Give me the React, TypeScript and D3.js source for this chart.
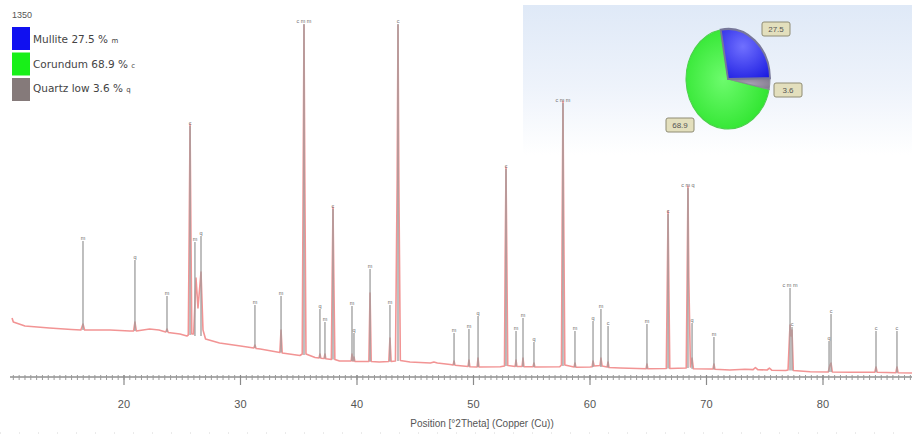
import React from "react";
import * as d3 from "d3";

// sample label and refined phase amounts
const sampleName = "1350";
const phaseNames = ["Mullite", "Corundum", "Quartz low"];
const phasePercents = [27.5, 68.9, 3.6];
const phaseCodes = ["m", "c", "q"];
const phaseColors = ["#1010f0", "#18f018", "#857a7a"];

const xTickLabels = [20, 30, 40, 50, 60, 70, 80];
const axisTitle = "Position [°2Theta] (Copper (Cu))";

// measured trace: [°2θ, counts]
const pattern: [number, number][] = [
  [10.39, 600], [10.5, 560], [11.5, 520], [13.6, 500], [15.5, 485], [16.3, 480],
  [16.48, 540], [16.62, 480], [18.8, 480], [20.5, 470], [20.82, 470], [20.94, 560],
  [21.06, 470], [22.2, 490], [23.0, 480], [23.58, 460], [23.69, 490], [23.8, 455],
  [24.8, 440], [25.4, 420], [25.52, 430], [25.6, 1500], [25.67, 2540], [25.74, 1500],
  [25.82, 440], [25.98, 440], [26.18, 1000], [26.35, 700], [26.61, 1060], [26.78, 480],
  [27.0, 390], [28.2, 350], [30.0, 320], [31.14, 300], [31.24, 330], [31.34, 295],
  [31.7, 290], [33.38, 255], [33.48, 480], [33.58, 250], [35.1, 225], [35.3, 240],
  [35.38, 2000], [35.45, 3530], [35.52, 2000], [35.62, 240], [36.4, 205], [36.74, 200],
  [36.82, 240], [36.9, 198], [37.17, 195], [37.25, 240], [37.33, 192], [37.8, 185],
  [37.87, 1000], [37.94, 1710], [38.01, 1000], [38.1, 185], [38.5, 170], [39.5, 170],
  [39.57, 240], [39.65, 168], [39.74, 210], [39.82, 166], [40.2, 165], [41.02, 165],
  [41.12, 850], [41.22, 165], [41.9, 160], [42.73, 165], [42.83, 400], [42.93, 165],
  [43.3, 170], [43.45, 2000], [43.52, 3530], [43.59, 2000], [43.72, 175], [44.55, 160],
  [46.3, 150], [46.6, 160], [46.9, 150], [48.0, 135], [48.25, 130], [48.33, 170],
  [48.41, 128], [49.53, 115], [49.61, 180], [49.69, 112], [50.31, 110], [50.39, 200],
  [50.47, 110], [52.3, 112], [52.66, 120], [52.72, 1200], [52.79, 2110], [52.86, 1200],
  [52.94, 125], [53.57, 115], [53.65, 180], [53.73, 115], [54.17, 115], [54.25, 200],
  [54.33, 113], [55.11, 112], [55.19, 150], [55.27, 110], [57.4, 112], [57.55, 130],
  [57.61, 1500], [57.68, 2770], [57.75, 1500], [57.84, 130], [58.63, 110], [58.71, 150],
  [58.79, 108], [60.0, 110], [60.18, 112], [60.26, 170], [60.36, 120], [60.86, 125],
  [60.94, 200], [61.04, 120], [61.47, 110], [61.55, 160], [61.63, 105], [62.6, 100],
  [64.81, 92], [64.89, 140], [64.97, 92], [66.55, 95], [66.63, 900], [66.7, 1670],
  [66.77, 900], [66.85, 95], [68.26, 100], [68.34, 1000], [68.41, 1920], [68.48, 1000],
  [68.62, 110], [68.76, 200], [68.88, 92], [70.3, 90], [70.56, 90], [70.64, 140],
  [70.72, 88], [72.0, 80], [73.3, 88], [74.0, 84], [74.2, 105], [74.4, 84],
  [75.2, 80], [75.4, 98], [75.6, 78], [76.8, 75], [77.0, 80], [77.12, 400],
  [77.17, 530], [77.26, 420], [77.34, 480], [77.45, 75], [78.9, 62], [80.45, 60],
  [80.6, 130], [80.69, 150], [80.8, 60], [82.4, 58], [84.45, 58], [84.55, 110],
  [84.65, 58], [86.25, 52], [86.35, 110], [86.45, 52], [87.64, 50],
];

// identified peaks: [°2θ, top counts, base counts, phase label]
const peakMarks: [number, number, number, string][] = [
  [16.48, 1370, 480, "m"], [20.94, 1180, 470, "q"], [23.69, 820, 460, "m"],
  [25.67, 2520, 430, "c"], [26.09, 1360, 420, "m"], [26.61, 1420, 420, "q"],
  [31.24, 730, 300, "m"], [33.48, 820, 255, "m"], [35.45, 3540, 230, "c m m"],
  [36.82, 690, 200, "q"], [37.25, 560, 195, "m"], [37.94, 1690, 185, "c"],
  [39.57, 720, 170, "m"], [39.74, 450, 168, "q"], [41.12, 1090, 165, "m"],
  [42.83, 730, 165, "m"], [43.52, 3540, 170, "c"], [48.33, 450, 130, "m"],
  [49.61, 490, 115, "m"], [50.39, 620, 110, "q"], [52.79, 2090, 120, "c"],
  [53.65, 470, 115, "m"], [54.25, 600, 113, "m"], [55.19, 360, 110, "q"],
  [57.68, 2750, 120, "c m m"], [58.71, 470, 108, "m"], [60.26, 570, 110, "q"],
  [60.94, 690, 110, "m"], [61.55, 520, 105, "c"], [64.89, 540, 92, "m"],
  [66.7, 1640, 95, "c"], [68.41, 1900, 100, "c m q"], [68.76, 550, 92, "q"],
  [70.64, 410, 88, "m"], [77.17, 900, 75, "c m m"], [77.34, 510, 75, "c"],
  [80.52, 370, 60, "q"], [80.69, 640, 60, "c"], [84.55, 470, 58, "c"],
  [86.35, 470, 52, "c"],
];

const W = 912;
const H = 439;
const axisY = 377;

export default function App() {
  const x = d3.scaleLinear().domain([10, 87.64]).range([7.5, 912]);
  const y = d3.scaleLinear().domain([0, 3600]).range([378, 18]);

  const line = d3
    .line<[number, number]>()
    .x((d) => x(d[0]))
    .y((d) => y(d[1]));

  const minorTicks = d3.range(10.5, 87.6, 0.5);

  // pie clockwise: mullite, quartz, corundum; squashed to an ellipse
  const pieIdx = [0, 2, 1];
  const pieGen = d3
    .pie<number>()
    .sort(null)
    .value((i) => phasePercents[i])
    .startAngle((-10 * Math.PI) / 180)
    .endAngle((350 * Math.PI) / 180);
  const arcs = pieGen(pieIdx);
  const arc = d3.arc<d3.PieArcDatum<number>>().innerRadius(0).outerRadius(50);
  const drawOrder = [2, 1, 0]; // green first, blue on top
  const pieBoxes: [number, number][] = [
    [776, 29],
    [680, 125],
    [788, 90],
  ];
  const pieStroke = ["#77779a", "#4ccf4c", "#8a8a96"];

  const font = "'Liberation Sans', Arial, sans-serif";

  return (
    <svg
      width={W}
      height={H}
      viewBox={`0 0 ${W} ${H}`}
      style={{ position: "absolute", left: 0, top: 0, display: "block", background: "#fff" }}
      fontFamily={font}
    >
      <defs>
        <linearGradient id="panelBg" x1="0" y1="0" x2="0" y2="1">
          <stop offset="0%" stopColor="#dfe9f7" />
          <stop offset="55%" stopColor="#eef3fb" />
          <stop offset="100%" stopColor="#ffffff" />
        </linearGradient>
        <radialGradient id="g0" cx="0.45" cy="0.35" r="0.8">
          <stop offset="0%" stopColor="#7070ff" />
          <stop offset="100%" stopColor="#1a1ae0" />
        </radialGradient>
        <radialGradient id="g1" cx="0.45" cy="0.5" r="0.7">
          <stop offset="0%" stopColor="#6dfb6d" />
          <stop offset="100%" stopColor="#22e022" />
        </radialGradient>
        <radialGradient id="g2" cx="0.5" cy="0.5" r="0.7">
          <stop offset="0%" stopColor="#a9a0b4" />
          <stop offset="100%" stopColor="#7d7589" />
        </radialGradient>
      </defs>

      {/* pie panel */}
      <rect x={523} y={5} width={W - 523} height={150} fill="url(#panelBg)" />
      <g transform="translate(728,79) scale(0.84,1)">
        {drawOrder.map((k) => {
          const i = pieIdx[k];
          return (
            <path
              key={i}
              d={arc(arcs[k]) ?? ""}
              fill={`url(#g${i})`}
              stroke={pieStroke[i]}
              strokeWidth={i === 0 ? 2.2 : 1.2}
            />
          );
        })}
      </g>
      {pieBoxes.map(([bx, by], i) => (
        <g key={i}>
          <rect
            x={bx - 14}
            y={by - 7}
            width={28}
            height={14}
            rx={2}
            fill="#e3dfbd"
            stroke="#8f8c74"
            strokeWidth={1}
          />
          <text x={bx} y={by + 3} fontSize={8} textAnchor="middle" fill="#555">
            {phasePercents[i].toFixed(1)}
          </text>
        </g>
      ))}

      {/* legend */}
      <text x={12} y={18} fontSize={9} fill="#555">
        {sampleName}
      </text>
      {phaseNames.map((name, i) => (
        <g key={name}>
          <rect x={12} y={27 + i * 25.5} width={18} height={23} fill={phaseColors[i]} />
          <text x={33} y={43 + i * 24.5} fontSize={10.5} fontFamily="'DejaVu Sans', sans-serif" fill="#444">
            {`${name} ${phasePercents[i]} % `}
            <tspan fontSize={7}>{phaseCodes[i]}</tspan>
          </text>
        </g>
      ))}

      {/* measured pattern */}
      <path d={line(pattern) ?? ""} fill="none" stroke="#f29494" strokeWidth={1.6} strokeLinejoin="round" />

      {/* peak markers */}
      {peakMarks.map(([t, top, base, lab], i) => (
        <g key={i}>
          <line x1={x(t)} x2={x(t)} y1={y(top)} y2={y(base)} stroke="#9d9d9d" strokeWidth={1.3} />
          <text x={x(t)} y={y(top) - 1.5} fontSize={5.5} textAnchor="middle" fill="#707070">
            {lab}
          </text>
        </g>
      ))}

      {/* x axis */}
      <line x1={10} x2={W} y1={axisY} y2={axisY} stroke="#8f8f8f" strokeWidth={1.6} />
      {minorTicks.map((t) => (
        <line key={t} x1={x(t)} x2={x(t)} y1={axisY - 2} y2={axisY + 3} stroke="#9a9a9a" strokeWidth={1} />
      ))}
      {xTickLabels.map((t) => (
        <g key={t}>
          <line x1={x(t)} x2={x(t)} y1={axisY - 2} y2={axisY + 8} stroke="#8a8a8a" strokeWidth={1.2} />
          <text x={x(t)} y={408} fontSize={11} textAnchor="middle" fill="#555">
            {t}
          </text>
        </g>
      ))}
      <text x={482} y={427} fontSize={10} textAnchor="middle" fill="#555">
        {axisTitle}
      </text>
      <line x1={0} x2={W} y1={433} y2={433} stroke="#d6d6d6" strokeWidth={1} strokeDasharray="1 18" />
    </svg>
  );
}
